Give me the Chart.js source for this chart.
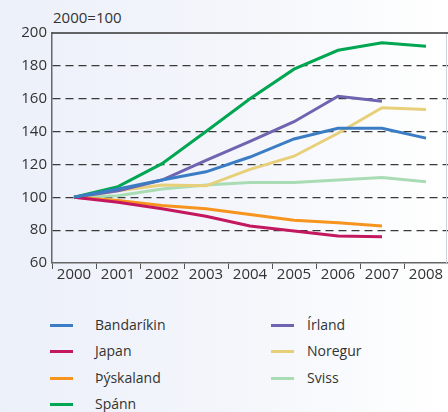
<!DOCTYPE html>
<html>
<head>
<meta charset="utf-8">
<script src="https://cdn.jsdelivr.net/npm/chart.js@4"></script>
<style>
  html, body { margin: 0; padding: 0; }
  body { width: 448px; height: 412px; overflow: hidden; font-family: "Open Sans", sans-serif; color: #333; }
  #wrap { position: relative; width: 448px; height: 412px; background: linear-gradient(to right, #ecf0f9 0%, #f4f6fb 55%, #ffffff 100%); }
  #unit { position: absolute; left: 53px; top: 7px; font-size: 15px; line-height: 20px; }
  #chart { position: absolute; left: 0; top: 0; }
  .lg { position: absolute; font-size: 14px; line-height: 20px; white-space: nowrap; }
  .lg .mk { position: absolute; top: 9px; width: 23px; height: 3px; }
</style>
</head>
<body>
<div id="wrap">
  <div id="unit">2000=100</div>
  <canvas id="chart" width="448" height="300"></canvas>
  <div id="legend"></div>
</div>
<script>
// Vísitala, 2000=100
const years = ['2000', '2001', '2002', '2003', '2004', '2005', '2006', '2007', '2008'];
const yTicks = [60, 80, 100, 120, 140, 160, 180, 200];

const bandarikin = [100, 105, 110.5, 115.5, 124.5, 135.5, 142, 142, 136];
const japan = [100, 97, 93, 88.5, 82.5, 79.5, 76.5, 76];
const thyskaland = [100, 98, 95, 93, 89.5, 86, 84.5, 82.5];
const spann = [100, 106.5, 120.5, 140, 160, 178, 189.5, 194, 192];
const irland = [100, 104, 110.5, 122.5, 134, 146, 161.5, 158.5];
const noregur = [100, 104, 107.5, 107, 117, 125, 139, 154.5, 153.5];
const sviss = [100, 101, 105, 107.5, 109, 109, 110.5, 112, 109.5];

const series = [
  { label: 'Bandaríkin', data: bandarikin, color: '#3b7dc4' },
  { label: 'Japan', data: japan, color: '#c3175f' },
  { label: 'Þýskaland', data: thyskaland, color: '#f7941d' },
  { label: 'Spánn', data: spann, color: '#00a651' },
  { label: 'Írland', data: irland, color: '#6e64b0' },
  { label: 'Noregur', data: noregur, color: '#e8cf7a' },
  { label: 'Sviss', data: sviss, color: '#a9dcb5' },
];

// rammi utan um teiknisvæðið
const framePlugin = {
  id: 'frame',
  afterDraw(chart) {
    const { ctx, chartArea: a } = chart;
    ctx.save();
    ctx.lineWidth = 1;
    ctx.strokeStyle = '#cfd3da';
    ctx.beginPath();
    ctx.moveTo(a.right - 1.5, a.top);
    ctx.lineTo(a.right - 1.5, a.bottom);
    ctx.stroke();
    ctx.strokeStyle = '#333';
    ctx.lineWidth = 1.5;
    ctx.beginPath();
    ctx.moveTo(a.left, a.top);
    ctx.lineTo(a.right, a.top);
    ctx.stroke();
    ctx.restore();
  },
};

const chart = new Chart(document.getElementById('chart'), {
  type: 'line',
  data: {
    labels: years,
    datasets: series.map(s => ({
      label: s.label,
      data: s.data,
      borderColor: s.color,
      backgroundColor: s.color,
      borderWidth: 3,
      pointRadius: 0,
      tension: 0,
      fill: false,
    })),
  },
  options: {
    responsive: false,
    maintainAspectRatio: false,
    animation: false,
    layout: { padding: { top: 33, right: 0, left: 0, bottom: 0 } },
    plugins: { legend: { display: false }, tooltip: { enabled: false } },
    scales: {
      x: {
        offset: true,
        grid: { offset: true, drawOnChartArea: false, drawTicks: true, tickLength: 6, color: '#555', tickWidth: 1 },
        border: { display: true, color: '#666', width: 1.5 },
        ticks: { color: '#333', font: { family: 'Open Sans', size: 15 }, padding: -3, maxRotation: 0, autoSkip: false },
        afterFit(scale) { scale.height = 300 - 263; },
      },
      y: {
        min: 60,
        max: 200,
        afterBuildTicks(scale) { scale.ticks = yTicks.map(v => ({ value: v })); },
        grid: {
          drawTicks: false,
          lineWidth: 1.2,
          color: c => (c.tick && (c.tick.value === 60 || c.tick.value === 200)) ? 'transparent' : '#3a3a3a',
        },
        border: { display: true, color: '#666', width: 1.5, dash: [8, 5] },
        ticks: { color: '#333', font: { family: 'Open Sans', size: 15 }, padding: 5 },
        afterFit(scale) { scale.width = 52; },
      },
    },
  },
  plugins: [framePlugin],
});

// skýringar í tveimur dálkum
const legend = document.getElementById('legend');
const perCol = 4;
chart.data.datasets.forEach((ds, i) => {
  const col = Math.floor(i / perCol);
  const row = i % perCol;
  const item = document.createElement('div');
  item.className = 'lg';
  item.style.left = (col ? 271 : 50) + 'px';
  item.style.top = (315 + row * 26.4) + 'px';
  item.innerHTML = `<span class="mk" style="left:0;background:${ds.borderColor}"></span>` +
    `<span style="position:absolute;left:${col ? 36 : 45}px">${ds.label}</span>`;
  legend.appendChild(item);
});
</script>
</body>
</html>
